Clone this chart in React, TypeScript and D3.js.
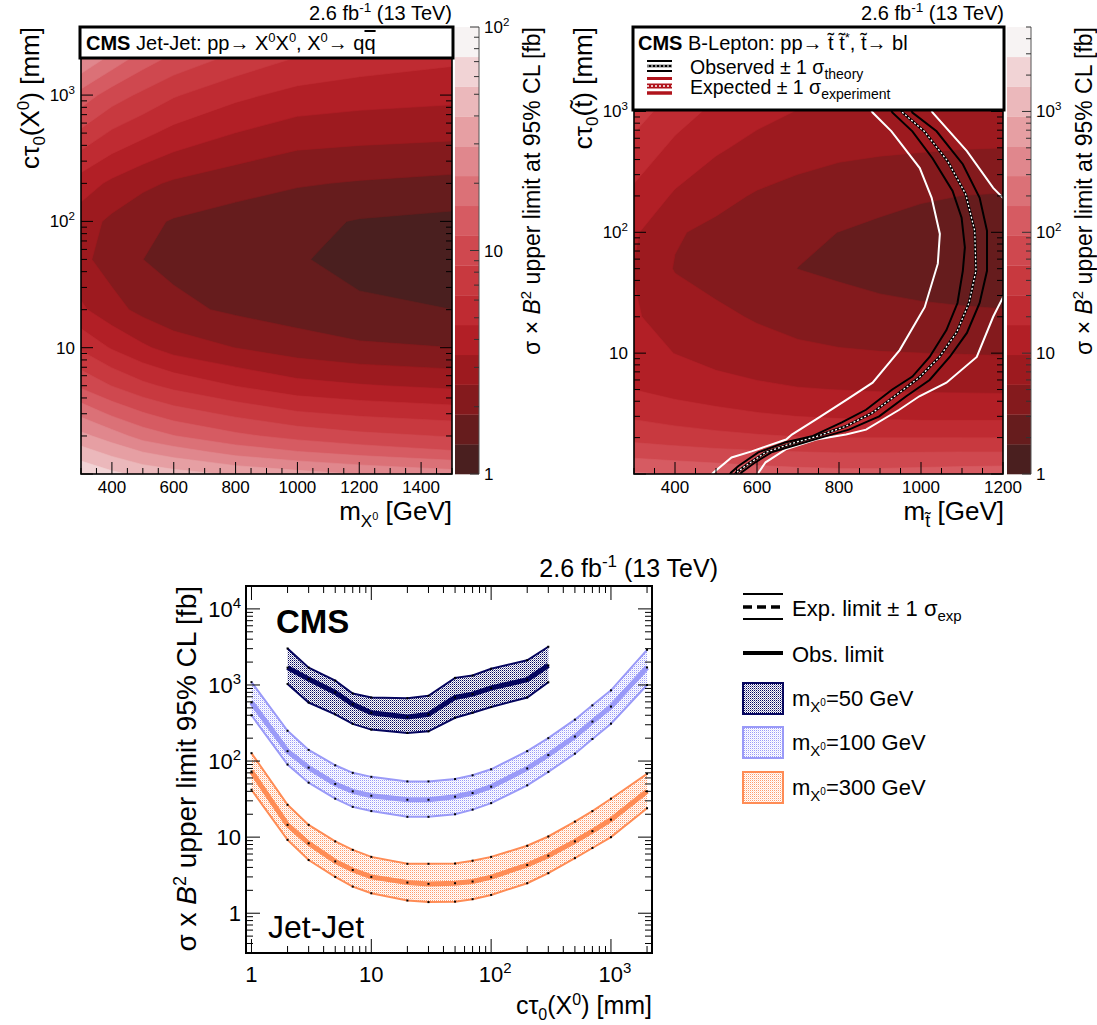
import React from 'react';
import * as d3 from 'd3';

const FONT = "'Liberation Sans', Arial, Helvetica, sans-serif";

// z-axis colour levels (darkest -> lightest)
const zPalette = ['#4a1f1f', '#661c1d', '#841a1d', '#9d1a1f', '#b21f26', '#bf2b32', '#c8393f', '#cf484f', '#d65b62', '#db7177', '#e0878d', '#e69fa3', '#ebb8bb', '#f1d3d5', '#f7f3f3'];

// ---------------- Jet-Jet (top left) ----------------
const jjMass = [300, 400, 500, 600, 800, 1000, 1200, 1500];
const jjCtau = [1, 1.5, 2, 3, 5, 10, 20, 50, 100, 200, 500, 1000, 2000, 3500];
const jjLimit = [
  [70, 58, 50, 45, 38, 33, 29, 25],
  [45, 36, 29, 25, 19, 16, 14, 12],
  [32, 25, 19, 16, 12.5, 10.5, 9.3, 8.4],
  [20, 15, 12, 10, 8, 6.6, 6, 5.5],
  [11, 8.5, 6.8, 5.8, 4.6, 3.8, 3.5, 3.2],
  [6, 4.5, 3.6, 3.0, 2.5, 2.15, 1.95, 1.85],
  [3.6, 2.8, 2.3, 2.0, 1.75, 1.6, 1.45, 1.36],
  [2.7, 2.2, 1.85, 1.7, 1.52, 1.4, 1.22, 1.1],
  [2.9, 2.35, 2.0, 1.8, 1.62, 1.48, 1.33, 1.25],
  [4, 3.2, 2.7, 2.4, 2.1, 1.9, 1.8, 1.7],
  [8, 6, 5, 4.2, 3.4, 2.9, 2.8, 2.7],
  [14, 10, 8, 6.5, 5, 4.2, 3.9, 3.7],
  [30, 20, 14, 11, 8, 6.3, 5.6, 5],
  [55, 32, 22, 16, 11, 8.5, 7.2, 6.5],
];
const jjZMax = 100;

// ---------------- B-Lepton (top right) ----------------
const blMass = [300, 400, 500, 600, 700, 800, 900, 1000, 1100, 1200];
const blCtau = [1, 1.5, 2, 3, 5, 10, 20, 50, 100, 200, 500, 1000, 5000];
const blLimit = [
  [180, 160, 145, 130, 120, 115, 115, 120, 125, 130],
  [75, 68, 62, 58, 55, 53, 53, 54, 55, 55],
  [45, 40, 36, 33, 31, 30, 30, 30, 30, 30],
  [28, 24, 21, 18.5, 17, 16, 15.5, 15, 15, 15],
  [17, 14, 12, 10.8, 10, 9.6, 9.3, 9.2, 9.1, 9],
  [12, 9.6, 8, 7, 6.2, 5.8, 5.6, 5.5, 5.4, 5.3],
  [10.2, 7.8, 6.2, 5.2, 4.5, 4.1, 3.8, 3.6, 3.5, 3.4],
  [9.5, 5.3, 4.4, 3.6, 3.1, 2.8, 2.5, 2.3, 2.1, 2.0],
  [10.5, 5.8, 4.8, 3.9, 3.4, 3.1, 2.8, 2.5, 2.3, 2.2],
  [15, 9, 6.5, 5.2, 4.5, 4, 3.6, 3.3, 3.1, 3.0],
  [25, 15, 10.5, 8.2, 7, 6.3, 6, 5.8, 5.6, 5.5],
  [40, 22, 15, 11.5, 9.5, 8.2, 7.5, 7, 6.7, 6.5],
  [100, 50, 32, 24, 20, 17, 15, 14, 13, 12],
];
const blZMax = 5000;

// exclusion contours [mass GeV, ctau mm]
const blObsCentral = [[930, 1500], [955, 980], [1008, 685], [1065, 388], [1109, 207], [1131, 103], [1134, 48], [1117, 26], [1087, 14.9], [1045, 9.3], [996, 6.3], [947, 4.7], [881, 3.2], [815, 2.47], [746, 2.05], [685, 1.79], [621, 1.51], [577, 1.2], [550, 1.03], [543, 0.95]];
const blObsLow = [[905, 1500], [930, 980], [979, 685], [1028, 410], [1077, 220], [1099, 132], [1107, 75], [1102, 48], [1089, 26], [1062, 15.5], [1021, 9.3], [979, 6.4], [930, 5.0], [866, 3.4], [807, 2.67], [734, 2.05], [670, 1.83], [603, 1.51], [554, 1.16], [537, 1.03], [530, 0.95]];
const blObsHigh = [[955, 1500], [979, 980], [1038, 685], [1102, 366], [1143, 193], [1161, 103], [1161, 48], [1143, 26], [1112, 14.7], [1070, 9.3], [1021, 6.0], [964, 4.4], [898, 3.0], [824, 2.33], [758, 2.01], [701, 1.76], [635, 1.51], [596, 1.25], [562, 1.03], [556, 0.95]];
const blExpLow = [[850, 1500], [882, 980], [928, 685], [997, 340], [1026, 193], [1046, 97], [1041, 55], [1009, 24], [948, 10.6], [882, 5.7], [818, 4.1], [744, 2.83], [685, 2.12], [671, 1.93], [587, 1.54], [538, 1.37], [494, 1.03], [485, 0.95]];
const blExpHigh = [[1000, 1500], [1028, 980], [1112, 469], [1176, 233], [1200, 193], [1240, 120], [1240, 40], [1200, 29], [1176, 20], [1136, 9.3], [1062, 5.7], [996, 4.4], [947, 3.4], [866, 2.33], [817, 2.12], [744, 1.93], [670, 1.6], [621, 1.25], [604, 1.03], [600, 0.95]];

// ---------------- 1D limits (bottom) ----------------
const ctauPoints = [1, 2, 3, 5, 7, 10, 20, 30, 50, 70, 100, 200, 300, 500, 700, 1000, 2000];
const ctauPoints50 = [2, 3, 5, 7, 10, 20, 30, 50, 70, 100, 200, 300];
const m50Up = [3020, 1690, 1140, 774, 685, 671, 721, 1240, 1330, 1634, 2110, 3180];
const m50Obs = [1690, 1200, 798, 558, 432, 379, 411, 685, 759, 912, 1178, 1810];
const m50Lo = [1032, 588, 411, 308, 259, 234, 246, 371, 432, 514, 685, 1086];
const m100Up = [1090, 250, 140, 88, 70, 62, 54, 54, 58, 65, 78, 135, 200, 350, 540, 850, 2900];
const m100Obs = [590, 135, 82, 50, 40, 35, 31, 31, 34, 38, 46, 80, 120, 210, 330, 520, 1700];
const m100Lo = [400, 90, 52, 32, 25, 22, 18.5, 18.5, 20, 23, 28, 48, 72, 125, 195, 310, 1000];
const m300Up = [127, 26.6, 14.5, 8.8, 6.8, 5.5, 4.46, 4.46, 4.5, 4.9, 5.5, 7.7, 10.2, 16, 22, 32, 68];
const m300Obs = [73, 14.5, 8.3, 4.8, 3.7, 3.0, 2.53, 2.43, 2.48, 2.61, 2.98, 4.3, 5.7, 8.8, 12, 17, 40];
const m300Lo = [42, 9.2, 5.0, 3.0, 2.24, 1.83, 1.47, 1.4, 1.42, 1.53, 1.74, 2.48, 3.36, 5.3, 7.2, 10, 24];

const isDecade = (v: number) => { const l = Math.log10(v); return Math.abs(l - Math.round(l)) < 1e-9; };

function DecadeLabel({ v, x, y, fs, anchor }: any) {
  const e = Math.round(Math.log10(v));
  if (e <= 1) return <text x={x} y={y} fontSize={fs} textAnchor={anchor}>{e === 0 ? '1' : '10'}</text>;
  return (
    <text x={x} y={y} fontSize={fs} textAnchor={anchor}>
      10<tspan dy={-fs * 0.42} fontSize={fs * 0.68}>{e}</tspan>
    </text>
  );
}

function HeatPanel(props: any) {
  const { uid, mass, ctau, values, zMax, fx0, fx1, fy0, fy1, xDom, yDom, cbx0, cbx1, overlay } = props;
  const xs = d3.scaleLinear().domain(xDom).range([fx0, fx1]);
  const ys = d3.scaleLog().domain(yDom).range([fy1, fy0]);
  const cs = d3.scaleLog().domain([1, zMax]).range([fy1, fy0]);
  const n = zPalette.length;
  const step = Math.log10(zMax) / n;
  const thresholds = d3.range(n).map((k) => k * step);
  const flat: number[] = [];
  values.forEach((row: number[]) => row.forEach((v) => flat.push(Math.log10(v))));
  const bands = d3.contours().size([mass.length, ctau.length]).thresholds(thresholds)(flat);
  const ux = d3.scaleLinear().domain(mass.map((_: any, i: number) => i + 0.5)).range(mass.map((m: number) => xs(m))).clamp(true);
  const uy = d3.scaleLinear().domain(ctau.map((_: any, j: number) => j + 0.5)).range(ctau.map((c: number) => ys(c))).clamp(true);
  const geo = d3.geoPath(d3.geoTransform({ point(x: number, y: number) { (this as any).stream.point(ux(x), uy(y)); } }));
  const yT = ys.ticks();
  const xT = xs.ticks((xDom[1] - xDom[0]) / 50);
  const cT = cs.ticks();
  return (
    <g>
      <defs>
        <clipPath id={`clip-${uid}`}><rect x={fx0} y={fy0} width={fx1 - fx0} height={fy1 - fy0} /></clipPath>
      </defs>
      <g clipPath={`url(#clip-${uid})`}>
        <rect x={fx0} y={fy0} width={fx1 - fx0} height={fy1 - fy0} fill={zPalette[0]} />
        {bands.map((b: any, k: number) => (
          <path key={k} d={geo(b) || ''} fill={zPalette[k]} stroke={zPalette[k]} strokeWidth={0.6} />
        ))}
        {overlay ? overlay(xs, ys) : null}
      </g>
      <rect x={fx0} y={fy0} width={fx1 - fx0} height={fy1 - fy0} fill="none" stroke="#000" strokeWidth={1.6} />
      {yT.map((v: number, i: number) => {
        const L = isDecade(v) ? 12 : 6;
        const y = ys(v);
        return (
          <g key={'y' + i} stroke="#000" strokeWidth={1}>
            <line x1={fx0} x2={fx0 + L} y1={y} y2={y} />
            <line x1={fx1} x2={fx1 - L} y1={y} y2={y} />
          </g>
        );
      })}
      {xT.map((v: number, i: number) => {
        const L = v % 200 === 0 ? 12 : 6;
        const x = xs(v);
        return (
          <g key={'x' + i} stroke="#000" strokeWidth={1}>
            <line x1={x} x2={x} y1={fy1} y2={fy1 - L} />
            <line x1={x} x2={x} y1={fy0} y2={fy0 + L} />
          </g>
        );
      })}
      {xT.filter((v: number) => v % 200 === 0).map((v: number, i: number) => (
        <text key={'xl' + i} x={xs(v)} y={fy1 + 19} fontSize={17} textAnchor="middle">{v}</text>
      ))}
      {yT.filter((v: number) => isDecade(v) && v > 1).map((v: number, i: number) => (
        <DecadeLabel key={'yl' + i} v={v} x={fx0 - 6} y={ys(v) + 6} fs={17} anchor="end" />
      ))}
      {/* colour bar */}
      {zPalette.map((c, k) => {
        const top = cs(Math.pow(10, (k + 1) * step));
        const bot = cs(Math.pow(10, k * step));
        return <rect key={'cb' + k} x={cbx0} y={top} width={cbx1 - cbx0} height={bot - top + 0.3} fill={c} />;
      })}
      <line x1={cbx1} x2={cbx1} y1={fy0} y2={fy1} stroke="#555" strokeWidth={1} />
      {cT.map((v: number, i: number) => {
        const L = isDecade(v) ? 9 : 5;
        return <line key={'ct' + i} x1={cbx1} x2={cbx1 - L} y1={cs(v)} y2={cs(v)} stroke="#333" strokeWidth={1} />;
      })}
      {cT.filter((v: number) => isDecade(v)).map((v: number, i: number) => (
        <DecadeLabel key={'cl' + i} v={v} x={cbx1 + 5} y={cs(v) + 6} fs={17} anchor="start" />
      ))}
    </g>
  );
}

function Lumi({ x, y, fs }: any) {
  return (
    <text x={x} y={y} fontSize={fs} textAnchor="end">
      2.6 fb<tspan dy={-fs * 0.4} fontSize={fs * 0.68}>-1</tspan><tspan dy={fs * 0.4}> (13 TeV)</tspan>
    </text>
  );
}

function blOverlay(xs: any, ys: any) {
  const line = d3.line<number[]>().x((d) => xs(d[0])).y((d) => ys(d[1]));
  return (
    <g fill="none">
      <path d={line(blExpLow as any) || ''} stroke="#fff" strokeWidth={2} />
      <path d={line(blExpHigh as any) || ''} stroke="#fff" strokeWidth={2} />
      <path d={line(blObsLow as any) || ''} stroke="#000" strokeWidth={2} />
      <path d={line(blObsHigh as any) || ''} stroke="#000" strokeWidth={2} />
      <path d={line(blObsCentral as any) || ''} stroke="#000" strokeWidth={2.6} />
      <path d={line(blObsCentral as any) || ''} stroke="#fff" strokeWidth={1.3} strokeDasharray="2 2" />
    </g>
  );
}

function LimitPanel() {
  const x0 = 246, x1 = 652, y0 = 586, y1 = 953;
  const xs = d3.scaleLog().domain([0.9, 2200]).range([x0, x1]);
  const ys = d3.scaleLog().domain([0.3, 20000]).range([y1, y0]);
  const series = [
    { key: 'm300', c: ctauPoints, up: m300Up, obs: m300Obs, lo: m300Lo, color: '#ff8c55', pat: 'patOrange' },
    { key: 'm100', c: ctauPoints, up: m100Up, obs: m100Obs, lo: m100Lo, color: '#9a9af8', pat: 'patBlue' },
    { key: 'm50', c: ctauPoints50, up: m50Up, obs: m50Obs, lo: m50Lo, color: '#06065e', pat: 'patNavy' },
  ];
  const xT = xs.ticks();
  const yT = ys.ticks();
  return (
    <g>
      <defs>
        <clipPath id="clip-lim"><rect x={x0} y={y0} width={x1 - x0} height={y1 - y0} /></clipPath>
      </defs>
      <g clipPath="url(#clip-lim)">
        {series.map((s) => {
          const pts = s.c.map((c, i) => ({ c, up: s.up[i], obs: s.obs[i], lo: s.lo[i] }));
          const area = d3.area<any>().x((d) => xs(d.c)).y0((d) => ys(d.lo)).y1((d) => ys(d.up));
          const lUp = d3.line<any>().x((d) => xs(d.c)).y((d) => ys(d.up));
          const lLo = d3.line<any>().x((d) => xs(d.c)).y((d) => ys(d.lo));
          const lObs = d3.line<any>().x((d) => xs(d.c)).y((d) => ys(d.obs));
          return (
            <g key={s.key}>
              <path d={area(pts) || ''} fill={`url(#${s.pat})`} />
              <path d={lUp(pts) || ''} fill="none" stroke={s.color} strokeWidth={2} />
              <path d={lLo(pts) || ''} fill="none" stroke={s.color} strokeWidth={2} />
              <path d={lObs(pts) || ''} fill="none" stroke={s.color} strokeWidth={5} />
              {pts.map((d, i) => (
                <g key={i} fill="#000">
                  <rect x={xs(d.c) - 1} y={ys(d.up) - 1} width={2} height={2} />
                  <rect x={xs(d.c) - 1} y={ys(d.lo) - 1} width={2} height={2} />
                  <rect x={xs(d.c) - 1} y={ys(d.obs) - 1} width={2} height={2} />
                </g>
              ))}
            </g>
          );
        })}
      </g>
      <rect x={x0} y={y0} width={x1 - x0} height={y1 - y0} fill="none" stroke="#000" strokeWidth={2} />
      {xT.map((v: number, i: number) => {
        const L = isDecade(v) ? 14 : 7;
        const x = xs(v);
        return (
          <g key={'x' + i} stroke="#000" strokeWidth={1}>
            <line x1={x} x2={x} y1={y1} y2={y1 - L} />
            <line x1={x} x2={x} y1={y0} y2={y0 + L} />
          </g>
        );
      })}
      {yT.map((v: number, i: number) => {
        const L = isDecade(v) ? 14 : 7;
        const y = ys(v);
        return (
          <g key={'y' + i} stroke="#000" strokeWidth={1}>
            <line x1={x0} x2={x0 + L} y1={y} y2={y} />
            <line x1={x1} x2={x1 - L} y1={y} y2={y} />
          </g>
        );
      })}
      {xT.filter((v: number) => isDecade(v)).map((v: number, i: number) => (
        <DecadeLabel key={'xl' + i} v={v} x={xs(v) + (v > 10 ? 4 : 0)} y={982} fs={22} anchor="middle" />
      ))}
      {yT.filter((v: number) => isDecade(v)).map((v: number, i: number) => (
        <DecadeLabel key={'yl' + i} v={v} x={241} y={ys(v) + 8} fs={22} anchor="end" />
      ))}
    </g>
  );
}

export default function App() {
  const fsT = 20;
  return (
    <svg width={1097} height={1025} style={{ position: 'absolute', left: 0, top: 0, background: '#fff' }} fontFamily={FONT}>
      <defs>
        <pattern id="patNavy" width={2} height={2} patternUnits="userSpaceOnUse">
          <rect width={2} height={2} fill="#fff" />
          <rect width={1} height={1} fill="#06065e" />
          <rect x={1} y={1} width={1} height={1} fill="#8c8cb4" />
        </pattern>
        <pattern id="patBlue" width={2} height={2} patternUnits="userSpaceOnUse">
          <rect width={2} height={2} fill="#fff" />
          <rect width={1} height={1} fill="#9a9af8" />
          <rect x={1} y={1} width={1} height={1} fill="#e4e4fd" />
        </pattern>
        <pattern id="patOrange" width={2} height={2} patternUnits="userSpaceOnUse">
          <rect width={2} height={2} fill="#fff" />
          <rect width={1} height={1} fill="#ff9a6a" />
          <rect x={1} y={1} width={1} height={1} fill="#ffe2d4" />
        </pattern>
      </defs>

      {/* ---------- top left ---------- */}
      <HeatPanel uid="jj" mass={jjMass} ctau={jjCtau} values={jjLimit} zMax={jjZMax}
        fx0={81} fx1={452} fy0={27} fy1={474} xDom={[300, 1500]} yDom={[1, 3460]} cbx0={455} cbx1={479} />
      <rect x={80} y={27} width={373} height={31} fill="#fff" stroke="#000" strokeWidth={3} />
      <text x={86} y={50} fontSize={fsT}>
        <tspan fontWeight="bold">CMS</tspan> Jet-Jet: pp→ X<tspan dy={-8} fontSize={13}>0</tspan><tspan dy={8}>X</tspan><tspan dy={-8} fontSize={13}>0</tspan><tspan dy={8}>, X</tspan><tspan dy={-8} fontSize={13}>0</tspan><tspan dy={8}>→ q</tspan><tspan style={{ textDecoration: 'overline' }}>q</tspan>
      </text>
      <Lumi x={452} y={20} fs={fsT} />
      <text transform="translate(39,27) rotate(-90)" fontSize={26} textAnchor="end">
        cτ<tspan dy={6} fontSize={17}>0</tspan><tspan dy={-6}>(X</tspan><tspan dy={-10} fontSize={17}>0</tspan><tspan dy={10}>) [mm]</tspan>
      </text>
      <text transform="translate(540,27) rotate(-90)" fontSize={23} textAnchor="end">
        σ × <tspan fontStyle="italic">B</tspan><tspan dy={-9} fontSize={15}>2</tspan><tspan dy={9}> upper limit at 95% CL [fb]</tspan>
      </text>
      <text x={452} y={520} fontSize={26} textAnchor="end">
        m<tspan dy={7} fontSize={17}>X</tspan><tspan dy={-7} fontSize={11}>0</tspan><tspan dy={0} fontSize={26}> [GeV]</tspan>
      </text>

      {/* ---------- top right ---------- */}
      <HeatPanel uid="bl" mass={blMass} ctau={blCtau} values={blLimit} zMax={blZMax}
        fx0={634} fx1={1003} fy0={27} fy1={474} xDom={[300, 1200]} yDom={[1, 5000]} cbx0={1007} cbx1={1031}
        overlay={blOverlay} />
      <rect x={633} y={27} width={371} height={83} fill="#fff" stroke="#000" strokeWidth={3} />
      <text x={638} y={50} fontSize={fsT}>
        <tspan fontWeight="bold">CMS</tspan> B-Lepton: pp→ t̃ t̃<tspan dy={-8} fontSize={13}>*</tspan><tspan dy={8}>, t̃→ bl</tspan>
      </text>
      <g>
        <line x1={647} x2={672} y1={61} y2={61} stroke="#000" strokeWidth={2} />
        <line x1={647} x2={672} y1={71} y2={71} stroke="#000" strokeWidth={2} />
        <line x1={647} x2={672} y1={66} y2={66} stroke="#000" strokeWidth={2.5} />
        <line x1={647} x2={672} y1={66} y2={66} stroke="#fff" strokeWidth={1.2} strokeDasharray="2 2" />
        <line x1={647} x2={672} y1={78.5} y2={78.5} stroke="#b0141c" strokeWidth={3} />
        <line x1={647} x2={672} y1={86} y2={86} stroke="#b0141c" strokeWidth={5} />
        <line x1={647} x2={672} y1={86} y2={86} stroke="#fff" strokeWidth={1.4} strokeDasharray="2 2" />
        <line x1={647} x2={672} y1={93} y2={93} stroke="#b0141c" strokeWidth={3.5} />
      </g>
      <text x={690} y={74} fontSize={19.5}>Observed ± 1 σ<tspan dy={5} fontSize={14}>theory</tspan></text>
      <text x={690} y={94} fontSize={19.5}>Expected ± 1 σ<tspan dy={5} fontSize={14}>experiment</tspan></text>
      <Lumi x={1004} y={20} fs={fsT} />
      <text transform="translate(592,27) rotate(-90)" fontSize={26} textAnchor="end">
        cτ<tspan dy={6} fontSize={17}>0</tspan><tspan dy={-6}>(t̃) [mm]</tspan>
      </text>
      <text transform="translate(1092,27) rotate(-90)" fontSize={23} textAnchor="end">
        σ × <tspan fontStyle="italic">B</tspan><tspan dy={-9} fontSize={15}>2</tspan><tspan dy={9}> upper limit at 95% CL [fb]</tspan>
      </text>
      <text x={1004} y={520} fontSize={26} textAnchor="end">
        m<tspan dy={7} fontSize={18}>t̃</tspan><tspan dy={-7} fontSize={26}> [GeV]</tspan>
      </text>

      {/* ---------- bottom ---------- */}
      <LimitPanel />
      <Lumi x={718} y={577} fs={25} />
      <text x={276} y={633} fontSize={33} fontWeight="bold">CMS</text>
      <text x={268} y={938} fontSize={32}>Jet-Jet</text>
      <text transform="translate(196,586) rotate(-90)" fontSize={28} textAnchor="end">
        σ x <tspan fontStyle="italic">B</tspan><tspan dy={-10} fontSize={18}>2</tspan><tspan dy={10}> upper limit 95% CL [fb]</tspan>
      </text>
      <text x={652} y={1014} fontSize={25} textAnchor="end">
        cτ<tspan dy={6} fontSize={16}>0</tspan><tspan dy={-6}>(X</tspan><tspan dy={-9} fontSize={16}>0</tspan><tspan dy={9}>) [mm]</tspan>
      </text>

      {/* legend */}
      <g>
        <line x1={743} x2={783} y1={594} y2={594} stroke="#000" strokeWidth={2} />
        <line x1={743} x2={783} y1={619} y2={619} stroke="#000" strokeWidth={2} />
        <line x1={743} x2={783} y1={607} y2={607} stroke="#000" strokeWidth={3.5} strokeDasharray="9 5" />
        <text x={792} y={616} fontSize={22}>Exp. limit ± 1 σ<tspan dy={5} fontSize={15}>exp</tspan></text>
        <line x1={743} x2={783} y1={653} y2={653} stroke="#000" strokeWidth={4} />
        <text x={792} y={662} fontSize={22}>Obs. limit</text>
        {[
          { y: 683, pat: 'patNavy', c: '#06065e', label: '50' },
          { y: 727, pat: 'patBlue', c: '#9a9af8', label: '100' },
          { y: 772, pat: 'patOrange', c: '#ff8c55', label: '300' },
        ].map((e) => (
          <g key={e.label}>
            <rect x={743} y={e.y} width={40} height={31} fill={`url(#${e.pat})`} stroke={e.c} strokeWidth={2} />
            <text x={792} y={e.y + 23} fontSize={22}>
              m<tspan dy={6} fontSize={15}>X</tspan><tspan dy={-6} fontSize={10}>0</tspan><tspan dy={0} fontSize={22}>={e.label} GeV</tspan>
            </text>
          </g>
        ))}
      </g>
    </svg>
  );
}
